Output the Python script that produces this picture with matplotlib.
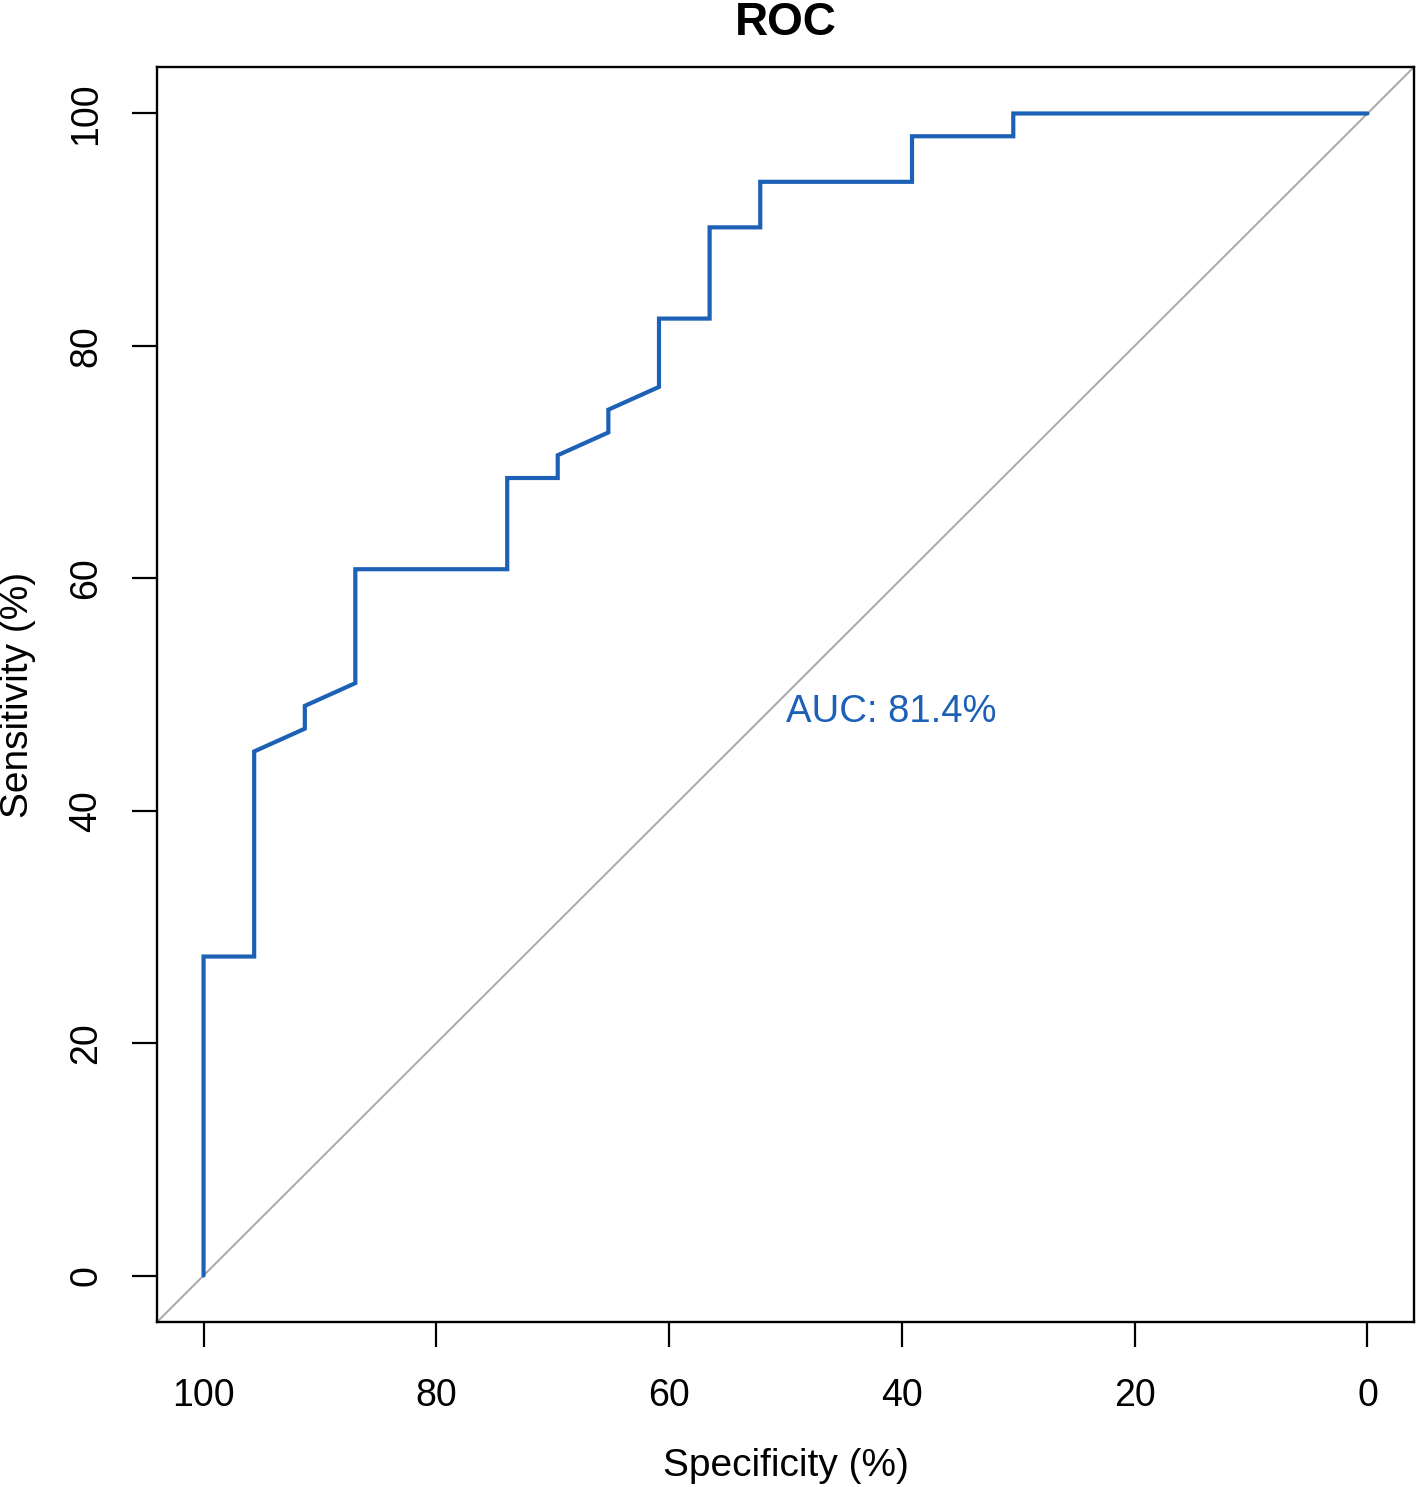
import matplotlib
matplotlib.use("Agg")
import matplotlib.pyplot as plt

# ROC curve points (specificity %, sensitivity %)
specificity = [100, 100, 95.65, 95.65, 91.30, 91.30, 86.96, 86.96, 73.91, 73.91,
               69.57, 69.57, 65.22, 65.22, 60.87, 60.87, 56.52, 56.52, 52.17, 52.17,
               39.13, 39.13, 30.43, 30.43, 0]
sensitivity = [0, 27.45, 27.45, 45.10, 47.06, 49.02, 50.98, 60.78, 60.78, 68.63,
               68.63, 70.59, 72.55, 74.51, 76.47, 82.35, 82.35, 90.20, 90.20, 94.12,
               94.12, 98.04, 98.04, 100, 100]
auc_label = "AUC: 81.4%"
ticks = [100, 80, 60, 40, 20, 0]

roc_col = "#1c61b6"

plt.rcParams['font.family'] = ['Liberation Sans', 'DejaVu Sans']

fig = plt.figure(figsize=(14.16, 14.87), dpi=100)
ax = fig.add_axes([157 / 1416, 1 - 1322 / 1487, (1414 - 157) / 1416, (1322 - 67) / 1487])

# identity line (chance)
ax.plot([104, -4], [-4, 104], color="#a9a9a9", lw=1.4, zorder=1)
ax.plot(specificity, sensitivity, color=roc_col, lw=3.0, solid_capstyle="round",
        solid_joinstyle="miter", zorder=2)
ax.text(50, 50, auc_label, color=roc_col, fontsize=27.5, ha="left", va="top")

ax.set_xlim(104, -4)
ax.set_ylim(-4, 104)
ax.set_xticks(ticks)
ax.set_yticks(ticks)
ax.set_xticklabels([str(t) for t in ticks])
ax.set_yticklabels([str(t) for t in ticks], rotation=90, va="center")
ax.tick_params(axis="both", length=18, width=1.6, labelsize=27, direction="out")
ax.tick_params(axis="x", pad=22)
ax.tick_params(axis="y", pad=20)
for s in ax.spines.values():
    s.set_linewidth(1.7)

ax.set_xlabel("Specificity (%)", fontsize=28, labelpad=25)
ax.set_ylabel("Sensitivity (%)", fontsize=28, labelpad=23)
ax.set_title("ROC", fontsize=33, fontweight="bold", pad=23)

fig.savefig("out.png", dpi=100)
